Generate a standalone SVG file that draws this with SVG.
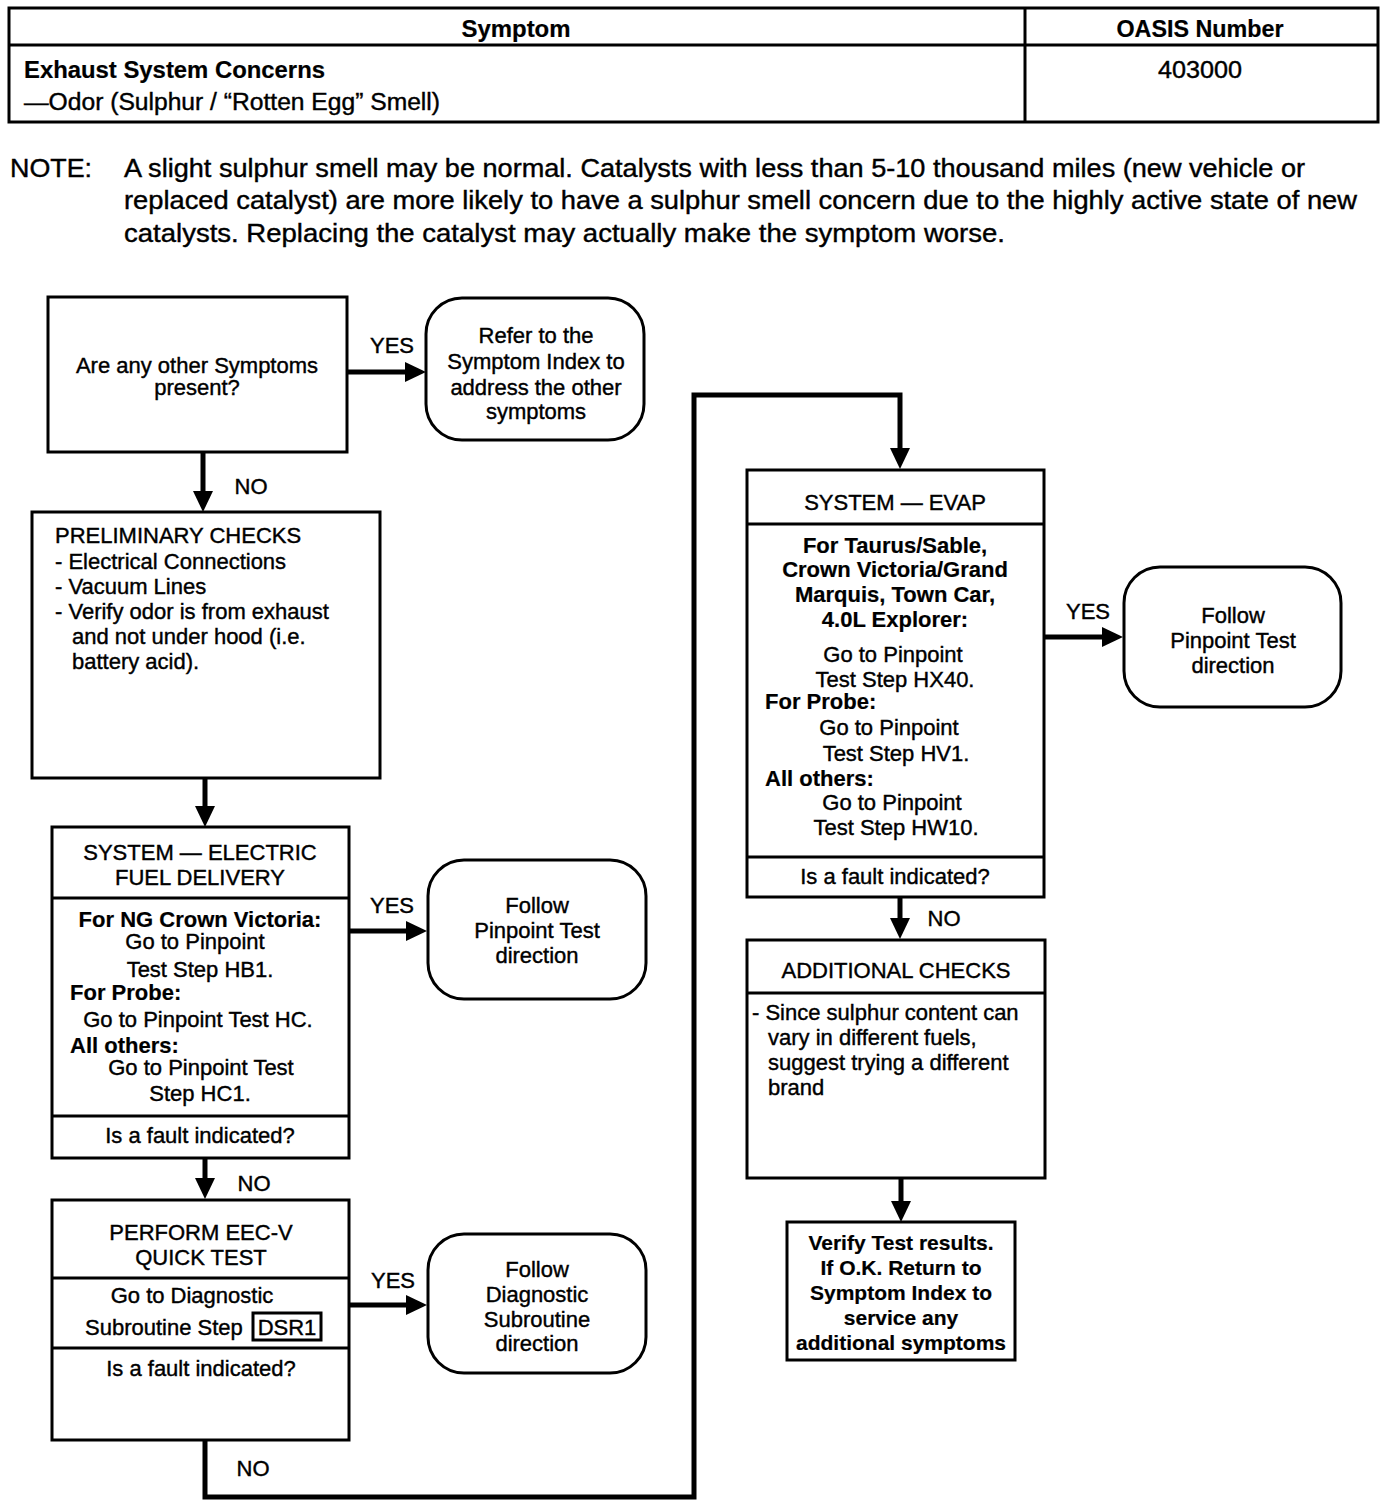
<svg xmlns="http://www.w3.org/2000/svg" width="1392" height="1508" viewBox="0 0 1392 1508">
<style>
text{font-family:"Liberation Sans",Arial,Helvetica,sans-serif;fill:#000;font-size:22px;stroke:#000;stroke-width:0.4}
.b{font-weight:bold;stroke-width:0.2}
.c{text-anchor:middle}
.n{font-size:25px}
.h{font-size:23px}
.v{font-size:21px}
.box{fill:#fff;stroke:#000;stroke-width:3}
.div{stroke:#000;stroke-width:3}
.conn{fill:none;stroke:#000;stroke-width:5}
</style>
<defs>
<marker id="ah" markerUnits="userSpaceOnUse" markerWidth="22" markerHeight="20" refX="8" refY="10" orient="auto">
<path d="M0,0 L21,10 L0,20 z" fill="#000"/>
</marker>
</defs>
<rect width="1392" height="1508" fill="#fff"/>

<g id="header-table">
<rect x="9" y="8" width="1369" height="114" class="box"/>
<line x1="9" y1="45" x2="1378" y2="45" class="div"/>
<line x1="1025" y1="8" x2="1025" y2="122" class="div"/>
<text x="516" y="37" class="h b c" textLength="109" lengthAdjust="spacingAndGlyphs">Symptom</text>
<text x="1200" y="37" class="h b c" textLength="167" lengthAdjust="spacingAndGlyphs">OASIS Number</text>
<text x="24" y="78" class="h b" textLength="301" lengthAdjust="spacingAndGlyphs">Exhaust System Concerns</text>
<text x="24" y="110" class="h" textLength="416" lengthAdjust="spacingAndGlyphs">—Odor (Sulphur / “Rotten Egg” Smell)</text>
<text x="1200" y="78" class="h c" textLength="84" lengthAdjust="spacingAndGlyphs">403000</text>
</g>

<g id="note">
<text x="10" y="177" class="n" textLength="82" lengthAdjust="spacingAndGlyphs">NOTE:</text>
<text x="124" y="177" class="n" textLength="1181" lengthAdjust="spacingAndGlyphs">A slight sulphur smell may be normal. Catalysts with less than 5-10 thousand miles (new vehicle or</text>
<text x="124" y="209" class="n" textLength="1233" lengthAdjust="spacingAndGlyphs">replaced catalyst) are more likely to have a sulphur smell concern due to the highly active state of new</text>
<text x="124" y="242" class="n" textLength="881" lengthAdjust="spacingAndGlyphs">catalysts. Replacing the catalyst may actually make the symptom worse.</text>
</g>

<g id="connectors">
<line x1="347" y1="372" x2="413" y2="372" class="conn" marker-end="url(#ah)"/>
<line x1="203" y1="452" x2="203" y2="499" class="conn" marker-end="url(#ah)"/>
<line x1="205" y1="778" x2="205" y2="814" class="conn" marker-end="url(#ah)"/>
<line x1="349" y1="931" x2="414" y2="931" class="conn" marker-end="url(#ah)"/>
<line x1="205" y1="1158" x2="205" y2="1186" class="conn" marker-end="url(#ah)"/>
<line x1="349" y1="1305" x2="414" y2="1305" class="conn" marker-end="url(#ah)"/>
<path d="M205,1440 V1497 H694 V395 H900 V456" class="conn" marker-end="url(#ah)"/>
<line x1="1044" y1="637" x2="1110" y2="637" class="conn" marker-end="url(#ah)"/>
<line x1="900" y1="897" x2="900" y2="926" class="conn" marker-end="url(#ah)"/>
<line x1="901" y1="1178" x2="901" y2="1209" class="conn" marker-end="url(#ah)"/>
<text x="392" y="353" class="c">YES</text>
<text x="251" y="494" class="c">NO</text>
<text x="392" y="913" class="c">YES</text>
<text x="254" y="1191" class="c">NO</text>
<text x="393" y="1288" class="c">YES</text>
<text x="253" y="1476" class="c">NO</text>
<text x="1088" y="619" class="c">YES</text>
<text x="944" y="926" class="c">NO</text>
</g>

<g id="q-other-symptoms">
<rect x="48" y="297" width="299" height="155" class="box"/>
<text x="197" y="373" class="c">Are any other Symptoms</text>
<text x="197" y="395" class="c">present?</text>
</g>

<g id="refer-symptom-index">
<rect x="426" y="298" width="218" height="142" rx="36" class="box"/>
<text x="536" y="343" class="c">Refer to the</text>
<text x="536" y="369" class="c">Symptom Index to</text>
<text x="536" y="395" class="c">address the other</text>
<text x="536" y="419" class="c">symptoms</text>
</g>

<g id="preliminary-checks">
<rect x="32" y="512" width="348" height="266" class="box"/>
<text x="55" y="543">PRELIMINARY CHECKS</text>
<text x="55" y="569">- Electrical Connections</text>
<text x="55" y="594">- Vacuum Lines</text>
<text x="55" y="619">- Verify odor is from exhaust</text>
<text x="72" y="644">and not under hood (i.e.</text>
<text x="72" y="669">battery acid).</text>
</g>

<g id="electric-fuel-delivery">
<rect x="52" y="827" width="297" height="331" class="box"/>
<line x1="52" y1="898" x2="349" y2="898" class="div"/>
<line x1="52" y1="1116" x2="349" y2="1116" class="div"/>
<text x="200" y="860" class="c">SYSTEM — ELECTRIC</text>
<text x="200" y="885" class="c">FUEL DELIVERY</text>
<text x="200" y="927" class="b c">For NG Crown Victoria:</text>
<text x="195" y="949" class="c">Go to Pinpoint</text>
<text x="200" y="977" class="c">Test Step HB1.</text>
<text x="70" y="1000" class="b">For Probe:</text>
<text x="198" y="1027" class="c">Go to Pinpoint Test HC.</text>
<text x="70" y="1053" class="b">All others:</text>
<text x="201" y="1075" class="c">Go to Pinpoint Test</text>
<text x="200" y="1101" class="c">Step HC1.</text>
<text x="200" y="1143" class="c">Is a fault indicated?</text>
</g>

<g id="follow-pinpoint-1">
<rect x="428" y="860" width="218" height="139" rx="36" class="box"/>
<text x="537" y="913" class="c">Follow</text>
<text x="537" y="938" class="c">Pinpoint Test</text>
<text x="537" y="963" class="c">direction</text>
</g>

<g id="eec-v-quick-test">
<rect x="52" y="1200" width="297" height="240" class="box"/>
<line x1="52" y1="1278" x2="349" y2="1278" class="div"/>
<line x1="52" y1="1348" x2="349" y2="1348" class="div"/>
<text x="201" y="1240" class="c">PERFORM EEC-V</text>
<text x="201" y="1265" class="c">QUICK TEST</text>
<text x="192" y="1303" class="c">Go to Diagnostic</text>
<text x="85" y="1335">Subroutine Step</text>
<rect x="253" y="1313" width="68" height="27" fill="none" stroke="#000" stroke-width="3"/>
<text x="287" y="1335" class="c">DSR1</text>
<text x="201" y="1376" class="c">Is a fault indicated?</text>
</g>

<g id="follow-diagnostic-subroutine">
<rect x="428" y="1234" width="218" height="139" rx="36" class="box"/>
<text x="537" y="1277" class="c">Follow</text>
<text x="537" y="1302" class="c">Diagnostic</text>
<text x="537" y="1327" class="c">Subroutine</text>
<text x="537" y="1351" class="c">direction</text>
</g>

<g id="system-evap">
<rect x="747" y="470" width="297" height="427" class="box"/>
<line x1="747" y1="524" x2="1044" y2="524" class="div"/>
<line x1="747" y1="857" x2="1044" y2="857" class="div"/>
<text x="895" y="510" class="c">SYSTEM — EVAP</text>
<text x="895" y="553" class="b c">For Taurus/Sable,</text>
<text x="895" y="577" class="b c">Crown Victoria/Grand</text>
<text x="895" y="602" class="b c">Marquis, Town Car,</text>
<text x="895" y="627" class="b c">4.0L Explorer:</text>
<text x="893" y="662" class="c">Go to Pinpoint</text>
<text x="895" y="687" class="c">Test Step HX40.</text>
<text x="765" y="709" class="b">For Probe:</text>
<text x="889" y="735" class="c">Go to Pinpoint</text>
<text x="896" y="761" class="c">Test Step HV1.</text>
<text x="765" y="786" class="b">All others:</text>
<text x="892" y="810" class="c">Go to Pinpoint</text>
<text x="896" y="835" class="c">Test Step HW10.</text>
<text x="895" y="884" class="c">Is a fault indicated?</text>
</g>

<g id="follow-pinpoint-2">
<rect x="1124" y="567" width="217" height="140" rx="36" class="box"/>
<text x="1233" y="623" class="c">Follow</text>
<text x="1233" y="648" class="c">Pinpoint Test</text>
<text x="1233" y="673" class="c">direction</text>
</g>

<g id="additional-checks">
<rect x="747" y="940" width="298" height="238" class="box"/>
<line x1="747" y1="993" x2="1045" y2="993" class="div"/>
<text x="896" y="978" class="c">ADDITIONAL CHECKS</text>
<text x="752" y="1020">- Since sulphur content can</text>
<text x="768" y="1045">vary in different fuels,</text>
<text x="768" y="1070">suggest trying a different</text>
<text x="768" y="1095">brand</text>
</g>

<g id="verify-results">
<rect x="787" y="1222" width="228" height="138" class="box"/>
<text x="901" y="1250" class="b v c">Verify Test results.</text>
<text x="901" y="1275" class="b v c">If O.K. Return to</text>
<text x="901" y="1300" class="b v c">Symptom Index to</text>
<text x="901" y="1325" class="b v c">service any</text>
<text x="901" y="1350" class="b v c">additional symptoms</text>
</g>
</svg>
